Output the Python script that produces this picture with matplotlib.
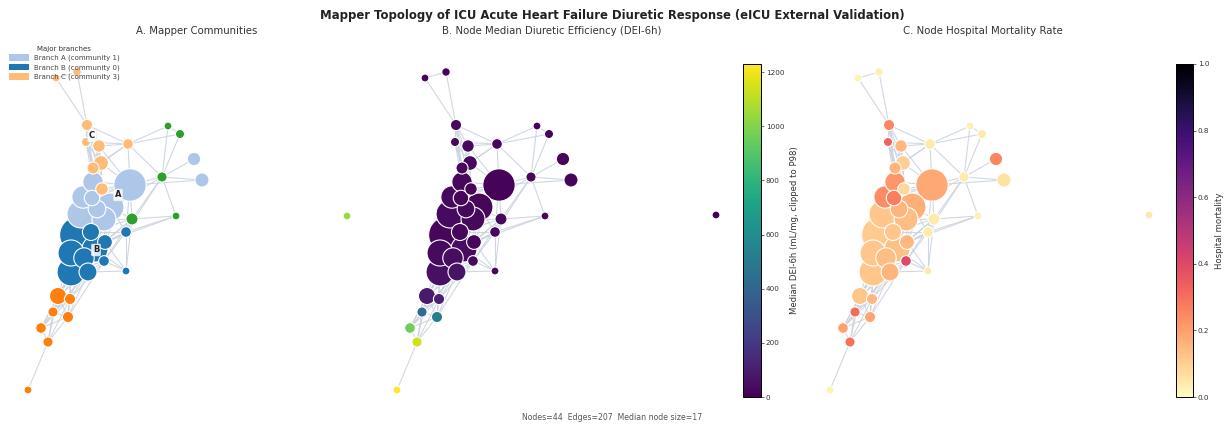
import matplotlib
matplotlib.use("Agg")
import matplotlib.pyplot as plt
import numpy as np
from matplotlib.collections import LineCollection
from matplotlib.patches import Patch
from matplotlib.colors import Normalize

# ---------------- data ----------------
# Mapper node layout coordinates (graph layout units)
node_x = [-1.04, -0.83, -0.73, -0.74, -0.61, -0.32, -0.59, -0.67, -0.58,
          0.08, 0.20, 0.02, -0.28, 0.16,
          0.34, 0.42, -0.30, -0.67, -0.77, -0.68, -0.63, -0.50, -0.79, -0.56,
          -0.82, -0.69, -0.55, -0.65, -0.89, -0.56, -0.89, -0.72, -0.34, -0.34, -0.76,
          -1.02, -0.90, -1.07, -0.92, -1.19, -1.12, -1.32,
          -1.82, 1.87]
node_y = [1.42, 1.48, 0.95, 0.78, 0.74, 0.76, 0.57, 0.52, 0.31,
          0.94, 0.86, 0.43, 0.01, 0.04,
          0.61, 0.40, 0.35, 0.38, 0.23, 0.22, 0.11, 0.13, 0.06, 0.01,
          -0.15, -0.12, -0.22, -0.29, -0.33, -0.41, -0.52, -0.52, -0.12, -0.51, -0.38,
          -0.76, -0.79, -0.92, -0.97, -1.08, -1.22, -1.70,
          0.04, 0.05]
# patients per node
node_size = [6, 7, 12, 8, 15, 11, 21, 14, 15,
             6, 8, 10, 14, 6,
             17, 19, 101, 40, 48, 23, 30, 75, 75, 55,
             130, 28, 21, 65, 65, 11, 75, 31, 11, 6, 40,
             28, 12, 10, 12, 11, 10, 6,
             6, 6]
# community id
node_comm = [3, 3, 3, 3, 3, 3, 3, 3, 3,
             4, 4, 4, 4, 4,
             1, 1, 1, 1, 1, 1, 1, 1, 1, 1,
             0, 0, 0, 0, 0, 0, 0, 0, 0, 0, 0,
             2, 2, 2, 2, 2, 2, 2,
             5, 6]
# node median DEI-6h (mL/mg)
node_dei = [20, 15, 25, 20, 30, 15, 25, 30, 20,
            10, 15, 20, 30, 15,
            20, 15, 10, 25, 30, 20, 25, 20, 35, 30,
            20, 25, 20, 40, 35, 30, 50, 60, 25, 30, 40,
            90, 115, 430, 520, 960, 1140, 1240,
            1045, 5]
# node hospital mortality rate
node_mort = [0.02, 0.03, 0.25, 0.33, 0.15, 0.04, 0.10, 0.16, 0.08,
             0.03, 0.04, 0.04, 0.04, 0.03,
             0.25, 0.06, 0.18, 0.22, 0.24, 0.27, 0.16, 0.17, 0.12, 0.14,
             0.11, 0.12, 0.15, 0.13, 0.12, 0.40, 0.12, 0.16, 0.04, 0.04, 0.14,
             0.12, 0.15, 0.31, 0.19, 0.20, 0.30, 0.02,
             0.03, 0.05]
edge_list = """
0-1 0-2 1-2 2-3 2-4 2-5 2-6 2-7 2-8 2-17 3-4 3-5 3-6 3-7 3-8 3-17
4-5 4-6 4-7 4-8 4-16 4-17 5-9 5-10 5-11 5-6 5-16 5-7
6-7 6-8 6-16 6-17 6-18 6-19 7-8 7-17 7-18 7-19
8-16 8-17 8-18 8-19 8-20 8-21 9-10 9-11 10-11
11-14 11-15 11-16 11-12 11-13 11-32 11-21
12-13 12-16 12-21 12-23 12-25 12-26 12-27 12-32 12-29 12-33
13-32 13-26 15-16
16-17 16-18 16-19 16-20 16-21 16-22 16-23 17-18 17-19 17-20 17-21 17-22
18-19 18-20 18-21 18-22 18-23 19-20 19-21 19-22 19-23 20-21 20-22 20-23
21-22 21-23 22-23 16-32 21-32
20-24 20-25 21-25 21-26 22-24 22-25 22-28 23-24 23-25 23-26 23-27 21-27 16-26 16-25 22-27
24-25 24-26 24-27 24-28 24-30 24-31 24-34 25-26 25-27 25-28 25-34
26-27 26-29 26-32 26-33 27-28 27-29 27-30 27-31 27-34 27-32 27-33
28-30 28-31 28-34 29-30 29-31 29-33 29-34 29-32 30-31 30-34 31-34 31-33 32-33 25-32
30-35 30-36 30-37 30-38 31-35 31-36 31-38 34-35 34-36 28-35 29-36 29-38 31-37 30-39 31-39 34-37
35-36 35-37 35-38 35-39 35-40 36-37 36-38 36-39 36-40 37-38 37-39 37-40 38-39 38-40 39-40 40-41
"""
branch_labels = ["Branch A (community 1)", "Branch B (community 0)", "Branch C (community 3)"]
branch_comms = [1, 0, 3]
branch_tags = ["A", "B", "C"]
# tag anchor positions (layout units)
tag_x = [-0.42, -0.64, -0.68]
tag_y = [0.25, -0.30, 0.84]

# ---------------- prep ----------------
x = np.array(node_x)
y = np.array(node_y)
sz = np.array(node_size, dtype=float)
comm = np.array(node_comm)
pairs = [tuple(int(v) for v in e.split("-")) for e in edge_list.split()]
segs = [[(x[a], y[a]), (x[b], y[b])] for a, b in pairs]
order = np.argsort(-sz, kind="stable")  # big nodes below small ones
s_pts = sz * 5.4

tab20 = plt.get_cmap("tab20")
comm_colors = np.array([tab20(c) for c in comm])

W, H = 1225, 425
fig = plt.figure(figsize=(12.25, 4.25), dpi=100)

T, Bt = 40, 405


def make_ax(L, R, off):
    ax = fig.add_axes([L / W, 1 - Bt / H, (R - L) / W, (Bt - T) / H])
    ax.set_xlim((L - off - 160) / 100, (R - off - 160) / 100)
    ax.set_ylim((220 - Bt) / 100, (220 - T) / 100)
    ax.axis("off")
    return ax


axA = make_ax(0, 340, 0)
axB = make_ax(338, 740, 369)
axC = make_ax(785, 1170, 802)

title_kw = dict(fontsize=7.3, color="#333333", pad=4)
axA.set_title("A. Mapper Communities", x=(197 - 0) / 340, **title_kw)
axB.set_title("B. Node Median Diuretic Efficiency (DEI-6h)", x=(552 - 338) / 402, **title_kw)
axC.set_title("C. Node Hospital Mortality Rate", x=(983 - 785) / 385, **title_kw)

edge_kw = dict(colors="#c9d1dd", linewidths=0.8, alpha=0.85, zorder=1)
for ax in (axA, axB, axC):
    ax.add_collection(LineCollection(segs, **edge_kw))

node_kw = dict(edgecolors="white", linewidths=0.8, zorder=2)
axA.scatter(x[order], y[order], s=s_pts[order], c=comm_colors[order], **node_kw)

dei_norm = Normalize(0, 1230)
scB = axB.scatter(x[order], y[order], s=s_pts[order], c=np.array(node_dei)[order],
                  cmap="viridis", norm=dei_norm, **node_kw)
mort_norm = Normalize(0, 1)
scC = axC.scatter(x[order], y[order], s=s_pts[order], c=np.array(node_mort)[order],
                  cmap="magma_r", norm=mort_norm, **node_kw)

for t, tx, ty in zip(branch_tags, tag_x, tag_y):
    axA.text(tx, ty, t, fontsize=6, fontweight="bold", color="#222222",
             ha="center", va="center", zorder=5,
             bbox=dict(boxstyle="round,pad=0.18", fc="white", ec="#dddddd", lw=0.4, alpha=0.85))

handles = [Patch(facecolor=tab20(c), edgecolor="none") for c in branch_comms]
leg = axA.legend(handles, branch_labels, title="Major branches", loc="upper left",
                 bbox_to_anchor=(3 / W, 1 - 40 / H), bbox_transform=fig.transFigure,
                 fontsize=5, title_fontsize=5, frameon=False,
                 handlelength=3.0, handleheight=1.1, labelspacing=0.35, borderpad=0.3,
                 handletextpad=0.6)
for t in leg.get_texts():
    t.set_color("#444444")
leg.get_title().set_color("#333333")

caxB = fig.add_axes([743 / W, 1 - 397 / H, 18 / W, 333 / H])
cbB = fig.colorbar(scB, cax=caxB)
cbB.set_ticks([0, 200, 400, 600, 800, 1000, 1200])
cbB.set_label("Median DEI-6h (mL/mg, clipped to P98)", fontsize=6.1, color="#333333")
caxC = fig.add_axes([1176 / W, 1 - 397 / H, 17 / W, 333 / H])
cbC = fig.colorbar(scC, cax=caxC)
cbC.set_ticks([0.0, 0.2, 0.4, 0.6, 0.8, 1.0])
cbC.set_label("Hospital mortality", fontsize=6.1, color="#333333")
for cb in (cbB, cbC):
    cb.ax.tick_params(labelsize=5.2, length=2, width=0.5, colors="#333333", pad=1.5)
    cb.outline.set_linewidth(0.7)

fig.suptitle("Mapper Topology of ICU Acute Heart Failure Diuretic Response (eICU External Validation)",
             x=612 / W, y=1 - 15 / H, va="center", fontsize=8.4, fontweight="bold", color="#222222")
fig.text(612 / W, 1 - 418 / H, "Nodes=44  Edges=207  Median node size=17",
         ha="center", va="center", fontsize=5.6, color="#555555")

fig.savefig("out.png", dpi=100)
